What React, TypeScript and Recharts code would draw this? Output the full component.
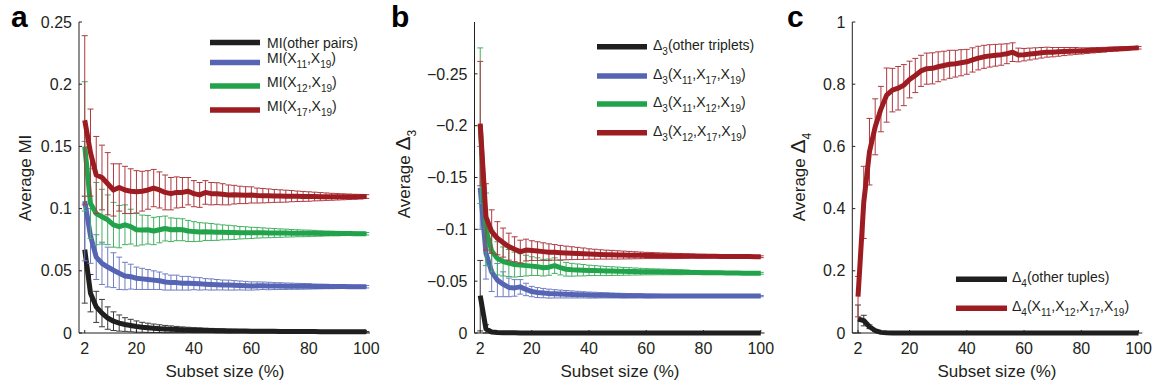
import { LineChart, Line, XAxis, YAxis, ErrorBar } from 'recharts';

// subset size (%) – one point every 2 %
const subsetSize = [
  2, 4, 6, 8, 10, 12, 14, 16, 18, 20,
  22, 24, 26, 28, 30, 32, 34, 36, 38, 40,
  42, 44, 46, 48, 50, 52, 54, 56, 58, 60,
  62, 64, 66, 68, 70, 72, 74, 76, 78, 80,
  82, 84, 86, 88, 90, 92, 94, 96, 98, 100,
];
const xTicks = [2, 20, 40, 60, 80, 100];

// panel a – average MI
const miOther = [
  0.067, 0.032, 0.021, 0.016, 0.012, 0.0095, 0.008, 0.0068, 0.006, 0.0052,
  0.0046, 0.0042, 0.0038, 0.0035, 0.0032, 0.003, 0.0028, 0.0026, 0.0025, 0.0023,
  0.0022, 0.0021, 0.002, 0.0019, 0.0018, 0.0017, 0.0017, 0.0016, 0.0016, 0.0015,
  0.0015, 0.0014, 0.0014, 0.0014, 0.0013, 0.0013, 0.0013, 0.0012, 0.0012, 0.0012,
  0.0012, 0.0011, 0.0011, 0.0011, 0.0011, 0.001, 0.001, 0.001, 0.001, 0.001,
];
const miOtherErr = [
  0.043, 0.015, 0.0125, 0.011, 0.009, 0.0075, 0.0065, 0.0055, 0.005, 0.0045,
  0.004, 0.0037, 0.0034, 0.0031, 0.0029, 0.0027, 0.0025, 0.0023, 0.0021, 0.002,
  0.0019, 0.0018, 0.0017, 0.0016, 0.0015, 0.0014, 0.0013, 0.0012, 0.0012, 0.0011,
  0.001, 0.001, 0.0009, 0.0009, 0.0008, 0.0008, 0.0007, 0.0007, 0.0007, 0.0006,
  0.0006, 0.0005, 0.0005, 0.0005, 0.0004, 0.0004, 0.0003, 0.0003, 0.0002, 0.0002,
];
const mi11 = [
  0.106, 0.078, 0.061, 0.056, 0.053, 0.0505, 0.048, 0.0458, 0.0453, 0.044,
  0.0435, 0.043, 0.0425, 0.042, 0.041, 0.0405, 0.0405, 0.04, 0.04, 0.0398,
  0.0395, 0.0392, 0.039, 0.0388, 0.0386, 0.0385, 0.0383, 0.0382, 0.038, 0.0378,
  0.0379, 0.038, 0.0378, 0.0377, 0.0377, 0.0376, 0.0376, 0.0375, 0.0375, 0.0375,
  0.0374, 0.0374, 0.0374, 0.0373, 0.0373, 0.0373, 0.0372, 0.0372, 0.0372, 0.0372,
];
const mi11Err = [
  0.048, 0.022, 0.018, 0.017, 0.016, 0.014, 0.013, 0.011, 0.01, 0.009,
  0.0085, 0.008, 0.0075, 0.007, 0.0065, 0.006, 0.006, 0.0055, 0.0055, 0.005,
  0.005, 0.0045, 0.0045, 0.0042, 0.004, 0.004, 0.0038, 0.0036, 0.0035, 0.0033,
  0.0032, 0.003, 0.003, 0.0028, 0.0027, 0.0026, 0.0025, 0.0024, 0.0023, 0.0022,
  0.002, 0.0019, 0.0018, 0.0017, 0.0016, 0.0015, 0.0014, 0.0013, 0.0012, 0.001,
];
const mi12 = [
  0.15, 0.104, 0.096, 0.0935, 0.091, 0.087, 0.0855, 0.087, 0.0855, 0.083,
  0.0828, 0.083, 0.082, 0.083, 0.084, 0.083, 0.0832, 0.083, 0.082, 0.0815,
  0.0812, 0.0814, 0.0812, 0.081, 0.0809, 0.0808, 0.0807, 0.0806, 0.0806, 0.0805,
  0.0806, 0.0805, 0.0804, 0.0804, 0.0803, 0.0803, 0.0802, 0.0802, 0.0801, 0.0801,
  0.0801, 0.08, 0.08, 0.08, 0.0799, 0.0799, 0.0799, 0.0798, 0.0798, 0.0798,
];
const mi12Err = [
  0.052, 0.028, 0.025, 0.022, 0.02, 0.018, 0.017, 0.016, 0.014, 0.013,
  0.012, 0.0115, 0.011, 0.0105, 0.01, 0.0095, 0.009, 0.0088, 0.0085, 0.008,
  0.0075, 0.007, 0.0068, 0.0065, 0.006, 0.0058, 0.0055, 0.005, 0.0048, 0.0045,
  0.0043, 0.004, 0.0038, 0.0036, 0.0034, 0.0032, 0.003, 0.0028, 0.0027, 0.0026,
  0.0024, 0.0022, 0.002, 0.0019, 0.0018, 0.0016, 0.0015, 0.0014, 0.0012, 0.001,
];
const mi17 = [
  0.171, 0.145, 0.127, 0.125, 0.12, 0.115, 0.117, 0.115, 0.114, 0.1135,
  0.114, 0.115, 0.1165, 0.115, 0.113, 0.112, 0.113, 0.113, 0.114, 0.112,
  0.111, 0.113, 0.112, 0.112, 0.1115, 0.111, 0.1112, 0.111, 0.1108, 0.111,
  0.1105, 0.1104, 0.1103, 0.1102, 0.1101, 0.11, 0.11, 0.1099, 0.1098, 0.1097,
  0.1097, 0.1096, 0.1096, 0.1095, 0.1095, 0.1095, 0.1095, 0.1095, 0.1096, 0.1097,
];
const mi17Err = [
  0.068, 0.035, 0.031, 0.026, 0.025, 0.021, 0.019, 0.019, 0.018, 0.017,
  0.016, 0.0155, 0.015, 0.0145, 0.014, 0.013, 0.0125, 0.012, 0.011, 0.0105,
  0.01, 0.0095, 0.009, 0.0088, 0.0085, 0.008, 0.0075, 0.007, 0.0068, 0.0065,
  0.006, 0.0058, 0.0055, 0.0052, 0.005, 0.0048, 0.0045, 0.0042, 0.004, 0.0038,
  0.0035, 0.0033, 0.003, 0.0028, 0.0026, 0.0024, 0.0022, 0.002, 0.0018, 0.0015,
];

// panel b – average delta3 (negative values)
const d3Other = [
  -0.036, -0.004, -0.001, -0.0005, -0.0003, -0.0002, -0.0002, -0.0001, -0.0001, -0.0001,
  -0.0001, -0.0001, -0.0001, -0.0001, -0.0001, -0.0001, -0.0001, -0.0001, -0.0001, -0.0001,
  -0.0001, -0.0001, -0.0001, -0.0001, -0.0001, -0.0001, -0.0001, -0.0001, -0.0001, -0.0001,
  -0.0001, -0.0001, -0.0001, -0.0001, -0.0001, -0.0001, -0.0001, -0.0001, -0.0001, -0.0001,
  -0.0001, -0.0001, -0.0001, -0.0001, -0.0001, -0.0001, -0.0001, -0.0001, -0.0001, -0.0001,
];
const d3OtherErr = [
  0.034, 0.004, 0.001, 0.0005, 0.0003, 0, 0, 0, 0, 0,
  0, 0, 0, 0, 0, 0, 0, 0, 0, 0,
  0, 0, 0, 0, 0, 0, 0, 0, 0, 0,
  0, 0, 0, 0, 0, 0, 0, 0, 0, 0,
  0, 0, 0, 0, 0, 0, 0, 0, 0, 0,
];
const d3_11_17 = [
  -0.14, -0.077, -0.059, -0.051, -0.047, -0.044, -0.0435, -0.0445, -0.042, -0.04,
  -0.039, -0.0385, -0.038, -0.0378, -0.0376, -0.0374, -0.0372, -0.037, -0.0368, -0.0366,
  -0.0365, -0.0364, -0.0363, -0.0362, -0.0361, -0.036, -0.036, -0.0359, -0.0359, -0.0358,
  -0.0358, -0.0358, -0.0357, -0.0357, -0.0357, -0.0357, -0.0356, -0.0356, -0.0356, -0.0356,
  -0.0356, -0.0356, -0.0356, -0.0356, -0.0356, -0.0356, -0.0356, -0.0356, -0.0356, -0.0356,
];
const d3_11_17Err = [
  0.04, 0.025, 0.019, 0.016, 0.012, 0.009, 0.008, 0.007, 0.006, 0.005,
  0.0048, 0.0045, 0.0043, 0.004, 0.0038, 0.0036, 0.0034, 0.0032, 0.003, 0.0029,
  0.0028, 0.0026, 0.0025, 0.0024, 0.0023, 0.0022, 0.0021, 0.002, 0.0019, 0.0018,
  0.0017, 0.0016, 0.0015, 0.0014, 0.0014, 0.0013, 0.0012, 0.0012, 0.0011, 0.0011,
  0.001, 0.001, 0.0009, 0.0009, 0.0008, 0.0008, 0.0007, 0.0007, 0.0006, 0.0006,
];
const d3_11_12 = [
  -0.2, -0.1, -0.079, -0.072, -0.069, -0.0675, -0.066, -0.0655, -0.065, -0.0645,
  -0.064, -0.063, -0.0635, -0.065, -0.063, -0.0615, -0.061, -0.0608, -0.0606, -0.0604,
  -0.0602, -0.06, -0.0598, -0.0597, -0.0596, -0.0595, -0.0594, -0.0593, -0.0592, -0.0591,
  -0.059, -0.059, -0.0589, -0.0588, -0.0587, -0.0586, -0.0585, -0.0584, -0.0583, -0.0582,
  -0.0581, -0.058, -0.058, -0.0579, -0.0578, -0.0578, -0.0577, -0.0577, -0.0576, -0.0576,
];
const d3_11_12Err = [
  0.075, 0.035, 0.02, 0.016, 0.014, 0.013, 0.012, 0.011, 0.01, 0.009,
  0.0085, 0.008, 0.0078, 0.0075, 0.007, 0.0066, 0.0062, 0.0058, 0.0055, 0.005,
  0.0048, 0.0046, 0.0044, 0.0042, 0.004, 0.0038, 0.0036, 0.0034, 0.0032, 0.003,
  0.0029, 0.0028, 0.0027, 0.0026, 0.0025, 0.0024, 0.0022, 0.002, 0.0019, 0.0018,
  0.0017, 0.0016, 0.0015, 0.0014, 0.0013, 0.0012, 0.0011, 0.001, 0.001, 0.0009,
];
const d3_12_17 = [
  -0.202, -0.112, -0.0978, -0.0914, -0.0872, -0.0833, -0.0808, -0.0785, -0.08, -0.0795,
  -0.079, -0.0785, -0.078, -0.0778, -0.0775, -0.0772, -0.077, -0.0768, -0.0765, -0.0762,
  -0.076, -0.0758, -0.0756, -0.0755, -0.0753, -0.0752, -0.0751, -0.075, -0.0749, -0.0748,
  -0.0747, -0.0746, -0.0745, -0.0744, -0.0743, -0.0743, -0.0742, -0.0742, -0.0741, -0.0741,
  -0.074, -0.074, -0.0739, -0.0739, -0.0738, -0.0738, -0.0737, -0.0737, -0.0736, -0.0736,
];
const d3_12_17Err = [
  0.06, 0.032, 0.021, 0.016, 0.014, 0.013, 0.012, 0.011, 0.0105, 0.0095,
  0.009, 0.0085, 0.008, 0.0075, 0.007, 0.0066, 0.0062, 0.0058, 0.0055, 0.005,
  0.0048, 0.0045, 0.0043, 0.0042, 0.004, 0.0038, 0.0036, 0.0034, 0.0032, 0.003,
  0.0029, 0.0028, 0.0027, 0.0026, 0.0025, 0.0024, 0.0022, 0.002, 0.0019, 0.0018,
  0.0017, 0.0016, 0.0015, 0.0014, 0.0013, 0.0012, 0.0011, 0.001, 0.001, 0.0009,
];

// panel c – average delta4
const d4Other = [
  0.045, 0.04, 0.02, 0.008, 0.002, 0.0005, 0.0002, 0.0001, 0.0001, 0.0001,
  0.0001, 0.0001, 0.0001, 0.0001, 0.0001, 0.0001, 0.0001, 0.0001, 0.0001, 0.0001,
  0.0001, 0.0001, 0.0001, 0.0001, 0.0001, 0.0001, 0.0001, 0.0001, 0.0001, 0.0001,
  0.0001, 0.0001, 0.0001, 0.0001, 0.0001, 0.0001, 0.0001, 0.0001, 0.0001, 0.0001,
  0.0001, 0.0001, 0.0001, 0.0001, 0.0001, 0.0001, 0.0001, 0.0001, 0.0001, 0.0001,
];
const d4OtherErr = [
  0.045, 0.017, 0.006, 0.003, 0.001, 0, 0, 0, 0, 0,
  0, 0, 0, 0, 0, 0, 0, 0, 0, 0,
  0, 0, 0, 0, 0, 0, 0, 0, 0, 0,
  0, 0, 0, 0, 0, 0, 0, 0, 0, 0,
  0, 0, 0, 0, 0, 0, 0, 0, 0, 0,
];
const d4Key = [
  0.117, 0.42, 0.583, 0.663, 0.72, 0.765, 0.781, 0.787, 0.797, 0.815,
  0.828, 0.843, 0.85, 0.851, 0.856, 0.86, 0.864, 0.866, 0.869, 0.872,
  0.878, 0.884, 0.888, 0.891, 0.893, 0.895, 0.898, 0.903, 0.894, 0.895,
  0.897, 0.899, 0.901, 0.903, 0.903, 0.904, 0.905, 0.906, 0.907, 0.907,
  0.908, 0.909, 0.91, 0.911, 0.912, 0.913, 0.914, 0.915, 0.916, 0.917,
];
const d4KeyErr = [
  0.065, 0.116, 0.107, 0.09, 0.073, 0.087, 0.07, 0.07, 0.066, 0.059,
  0.055, 0.05, 0.05, 0.05, 0.048, 0.046, 0.045, 0.043, 0.042, 0.04,
  0.039, 0.038, 0.037, 0.036, 0.035, 0.034, 0.032, 0.03, 0.022, 0.02,
  0.019, 0.018, 0.017, 0.016, 0.015, 0.014, 0.013, 0.012, 0.011, 0.01,
  0.009, 0.0085, 0.008, 0.0075, 0.007, 0.0065, 0.006, 0.005, 0.0045, 0.004,
];

const FONT = '"Liberation Sans", Arial, Helvetica, sans-serif';
const INK = '#231f20';

const BLACK = '#1f1f1f';
const BLUE = '#5564b3';
const GREEN = '#22a24b';
const RED = '#9d1c22';
const BLACK_BAR = '#3a3a3a';
const BLUE_BAR = '#6f7dc3';
const GREEN_BAR = '#43b063';
const RED_BAR = '#ae3a40';

type Part = { t: string; sub?: boolean; big?: boolean };

type Series = {
  key: string;
  values: number[];
  errors: number[];
  color: string;
  barColor: string;
  label: Part[];
};

const panelA: Series[] = [
  { key: 'other', values: miOther, errors: miOtherErr, color: BLACK, barColor: BLACK_BAR, label: [{ t: 'MI(other pairs)' }] },
  { key: 'x11', values: mi11, errors: mi11Err, color: BLUE, barColor: BLUE_BAR, label: [{ t: 'MI(X' }, { t: '11', sub: true }, { t: ',X' }, { t: '19', sub: true }, { t: ')' }] },
  { key: 'x12', values: mi12, errors: mi12Err, color: GREEN, barColor: GREEN_BAR, label: [{ t: 'MI(X' }, { t: '12', sub: true }, { t: ',X' }, { t: '19', sub: true }, { t: ')' }] },
  { key: 'x17', values: mi17, errors: mi17Err, color: RED, barColor: RED_BAR, label: [{ t: 'MI(X' }, { t: '17', sub: true }, { t: ',X' }, { t: '19', sub: true }, { t: ')' }] },
];

const panelB: Series[] = [
  { key: 'other', values: d3Other, errors: d3OtherErr, color: BLACK, barColor: BLACK_BAR, label: [{ t: 'Δ' }, { t: '3', sub: true }, { t: '(other triplets)' }] },
  { key: 't1', values: d3_11_17, errors: d3_11_17Err, color: BLUE, barColor: BLUE_BAR, label: [{ t: 'Δ' }, { t: '3', sub: true }, { t: '(X' }, { t: '11', sub: true }, { t: ',X' }, { t: '17', sub: true }, { t: ',X' }, { t: '19', sub: true }, { t: ')' }] },
  { key: 't2', values: d3_11_12, errors: d3_11_12Err, color: GREEN, barColor: GREEN_BAR, label: [{ t: 'Δ' }, { t: '3', sub: true }, { t: '(X' }, { t: '11', sub: true }, { t: ',X' }, { t: '12', sub: true }, { t: ',X' }, { t: '19', sub: true }, { t: ')' }] },
  { key: 't3', values: d3_12_17, errors: d3_12_17Err, color: RED, barColor: RED_BAR, label: [{ t: 'Δ' }, { t: '3', sub: true }, { t: '(X' }, { t: '12', sub: true }, { t: ',X' }, { t: '17', sub: true }, { t: ',X' }, { t: '19', sub: true }, { t: ')' }] },
];

const panelC: Series[] = [
  { key: 'other', values: d4Other, errors: d4OtherErr, color: BLACK, barColor: BLACK_BAR, label: [{ t: 'Δ' }, { t: '4', sub: true }, { t: '(other tuples)' }] },
  { key: 'q', values: d4Key, errors: d4KeyErr, color: RED, barColor: RED_BAR, label: [{ t: 'Δ' }, { t: '4', sub: true }, { t: '(X' }, { t: '11', sub: true }, { t: ',X' }, { t: '12', sub: true }, { t: ',X' }, { t: '17', sub: true }, { t: ',X' }, { t: '19', sub: true }, { t: ')' }] },
];

function RichText({
  x, y, parts, size, subSize, subDy, bigSize, anchor = 'start', rotate = false,
}: {
  x: number; y: number; parts: Part[]; size: number; subSize: number; subDy: number;
  bigSize?: number; anchor?: 'start' | 'middle'; rotate?: boolean;
}) {
  let shift = 0;
  return (
    <text
      x={x}
      y={y}
      fontSize={size}
      textAnchor={anchor}
      fill={INK}
      transform={rotate ? `rotate(-90 ${x} ${y})` : undefined}
    >
      {parts.map((p, i) => {
        const target = p.sub ? subDy : 0;
        const dy = target - shift;
        shift = target;
        const fs = p.sub ? subSize : p.big ? bigSize ?? size : size;
        return (
          <tspan key={i} dy={dy} fontSize={fs}>
            {p.t}
          </tspan>
        );
      })}
    </text>
  );
}

const TICK_GAP_X = 10;
const TICK_GAP_Y = 7;

// tick label plus a short inward tick mark (MATLAB style)
function XTick(props: any) {
  const { x, y, payload } = props;
  const axisY = y - TICK_GAP_X;
  return (
    <g>
      <line x1={x} x2={x} y1={axisY} y2={axisY - 3} stroke={INK} strokeWidth={1} />
      <text x={x} y={y} dy="0.71em" textAnchor="middle" fontSize={16} fill={INK} fontFamily={FONT}>
        {String(payload.value)}
      </text>
    </g>
  );
}

function YTick(props: any) {
  const { x, y, payload, fmt } = props;
  const axisX = x + TICK_GAP_Y;
  return (
    <g>
      <line x1={axisX} x2={axisX + 3} y1={y} y2={y} stroke={INK} strokeWidth={1} />
      <text x={x} y={y} dy="0.355em" textAnchor="end" fontSize={16} fill={INK} fontFamily={FONT}>
        {fmt(payload.value)}
      </text>
    </g>
  );
}

function Panel({
  left, width, plotLeft, plotWidth, series, yDomain, yTicks, yFormat, reversed = false,
}: {
  left: number; width: number; plotLeft: number; plotWidth: number; series: Series[];
  yDomain: [number, number]; yTicks: number[]; yFormat: (v: number) => string; reversed?: boolean;
}) {
  const rows = subsetSize.map((x, i) => {
    const row: Record<string, number> = { x };
    series.forEach((s) => {
      row[s.key] = s.values[i];
      row[s.key + 'Err'] = s.errors[i];
    });
    return row;
  });

  return (
    <div style={{ position: 'absolute', left, top: 0 }}>
      <LineChart
        width={width}
        height={390}
        data={rows}
        margin={{ top: 22, right: width - plotLeft - plotWidth, bottom: 27, left: plotLeft - 60 }}
      >
        <XAxis
          dataKey="x"
          type="number"
          domain={[0, 101.3]}
          ticks={xTicks}
          height={30}
          axisLine={{ stroke: INK }}
          tickLine={false}
          tickSize={0}
          tickMargin={TICK_GAP_X}
          tick={<XTick />}
        />
        <YAxis
          type="number"
          domain={yDomain}
          ticks={yTicks}
          reversed={reversed}
          width={60}
          axisLine={{ stroke: INK }}
          tickLine={false}
          tickSize={0}
          tickMargin={TICK_GAP_Y}
          tick={<YTick fmt={yFormat} />}
        />
        {series.flatMap((s) => [
          <Line
            key={s.key + '-bars'}
            dataKey={s.key}
            stroke="none"
            dot={false}
            activeDot={false}
            isAnimationActive={false}
          >
            <ErrorBar
              dataKey={s.key + 'Err'}
              direction="y"
              width={3}
              strokeWidth={1}
              stroke={s.barColor}
              isAnimationActive={false}
            />
          </Line>,
          <Line
            key={s.key}
            dataKey={s.key}
            stroke={s.color}
            strokeWidth={5}
            strokeLinejoin="round"
            dot={false}
            activeDot={false}
            isAnimationActive={false}
          />,
        ])}
      </LineChart>
    </div>
  );
}

function Legend({
  series, x1, x2, tx, lineYs, textYs,
}: {
  series: Series[]; x1: number; x2: number; tx: number; lineYs: number[]; textYs: number[];
}) {
  return (
    <g>
      {series.map((s, i) => (
        <g key={s.key}>
          <line x1={x1} x2={x2} y1={lineYs[i]} y2={lineYs[i]} stroke={s.color} strokeWidth={5.5} />
          <RichText x={tx} y={textYs[i]} parts={s.label} size={14} subSize={10} subDy={5} />
        </g>
      ))}
    </g>
  );
}

const fmtPlain = (v: number) => String(v);
const fmtNeg = (v: number) => (v === 0 ? '0' : '\u2212' + String(Math.abs(v)));

export default function App() {
  return (
    <div
      style={{
        position: 'absolute',
        left: 0,
        top: 0,
        width: 1156,
        height: 390,
        background: '#fff',
        fontFamily: FONT,
        overflow: 'hidden',
      }}
    >
      <Panel
        left={0}
        width={390}
        plotLeft={79}
        plotWidth={291}
        series={panelA}
        yDomain={[0, 0.25]}
        yTicks={[0, 0.05, 0.1, 0.15, 0.2, 0.25]}
        yFormat={fmtPlain}
      />
      <Panel
        left={385}
        width={390}
        plotLeft={89.5}
        plotWidth={290}
        series={panelB}
        yDomain={[-0.3, 0]}
        yTicks={[0, -0.05, -0.1, -0.15, -0.2, -0.25]}
        yFormat={fmtNeg}
        reversed
      />
      <Panel
        left={770}
        width={386}
        plotLeft={82.3}
        plotWidth={290}
        series={panelC}
        yDomain={[0, 1]}
        yTicks={[0, 0.2, 0.4, 0.6, 0.8, 1]}
        yFormat={fmtPlain}
      />

      <svg
        width={1156}
        height={390}
        style={{ position: 'absolute', left: 0, top: 0, pointerEvents: 'none', fontFamily: FONT }}
      >
        {/* panel letters */}
        <text x={11} y={27} fontSize={30} fontWeight="bold" fill="#000">a</text>
        <text x={391} y={27} fontSize={30} fontWeight="bold" fill="#000">b</text>
        <text x={787} y={27} fontSize={30} fontWeight="bold" fill="#000">c</text>

        {/* axis titles */}
        <RichText x={31} y={178} parts={[{ t: 'Average MI' }]} size={17} subSize={12} subDy={5} anchor="middle" rotate />
        <RichText x={410} y={174} parts={[{ t: 'Average ' }, { t: 'Δ', big: true }, { t: '3', sub: true }]} size={17} bigSize={21} subSize={12} subDy={6} anchor="middle" rotate />
        <RichText x={805} y={177} parts={[{ t: 'Average ' }, { t: 'Δ', big: true }, { t: '4', sub: true }]} size={17} bigSize={21} subSize={12} subDy={6} anchor="middle" rotate />
        <text x={225} y={377} fontSize={17} textAnchor="middle" fill={INK}>Subset size (%)</text>
        <text x={620} y={377} fontSize={17} textAnchor="middle" fill={INK}>Subset size (%)</text>
        <text x={997} y={377} fontSize={17} textAnchor="middle" fill={INK}>Subset size (%)</text>

        {/* legends */}
        <Legend series={panelA} x1={210} x2={260} tx={267} lineYs={[42.5, 62.5, 86, 110]} textYs={[47.5, 63, 87, 111]} />
        <Legend series={panelB} x1={597} x2={647} tx={653} lineYs={[46.7, 76, 104, 132.7]} textYs={[49.5, 78.5, 106.7, 136]} />
        <Legend series={panelC} x1={956} x2={1007} tx={1012} lineYs={[279.3, 308.3]} textYs={[281.7, 311]} />
      </svg>
    </div>
  );
}
